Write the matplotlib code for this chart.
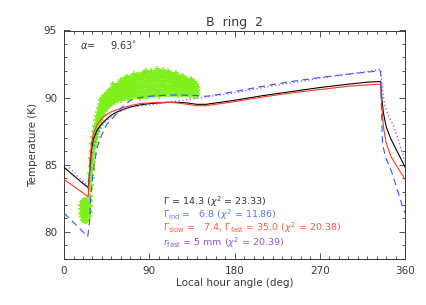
import numpy as np
import matplotlib
matplotlib.use("Agg")
import matplotlib.pyplot as plt

# model curves: local hour angle (deg) vs temperature (K)
black_lha = [0, 5, 10, 15, 20, 25.5, 26.5, 27.5, 28.9, 31, 35, 40, 45, 50, 55, 60, 70, 80, 90, 100,
             110, 120, 130, 140, 150, 160, 180, 210, 240, 270, 300, 320, 334, 335.5, 337, 340, 345,
             350, 355, 360]
black_temp = [84.8, 84.5, 84.2, 83.9, 83.6, 83.3, 84.0, 84.9, 86.1, 86.9, 87.6, 88.05, 88.4, 88.7, 88.9,
              89.05, 89.3, 89.45, 89.55, 89.6, 89.65, 89.65, 89.6, 89.5, 89.5, 89.6, 89.8, 90.15, 90.45,
              90.75, 91.0, 91.15, 91.2, 89.8, 88.85, 87.8, 86.9, 86.2, 85.5, 84.8]

red_lha = [0, 5, 10, 15, 20, 25.5, 26.5, 27.5, 29, 31, 35, 40, 45, 50, 60, 70, 80, 90, 100, 110,
           120, 130, 140, 150, 160, 180, 210, 240, 270, 300, 320, 334, 335.5, 337, 340, 345, 350,
           355, 360]
red_temp = [83.9, 83.65, 83.4, 83.15, 82.9, 82.6, 84.0, 85.5, 86.6, 87.3, 88.0, 88.45, 88.75, 88.95,
            89.2, 89.4, 89.55, 89.6, 89.65, 89.65, 89.6, 89.5, 89.4, 89.4, 89.5, 89.7, 90.05, 90.35,
            90.6, 90.85, 90.95, 91.0, 89.2, 87.8, 86.6, 85.6, 85.0, 84.45, 83.9]

blue_lha = [0, 5, 10, 15, 20, 25, 27, 28, 30, 32, 35, 39, 45, 53, 60, 70, 80, 90, 100, 120, 140,
            150, 160, 180, 210, 240, 270, 300, 320, 334, 335, 336, 339, 346, 351, 356.6, 360]
blue_temp = [81.4, 81.05, 80.7, 80.35, 80.0, 79.65, 80.8, 82.4, 84.0, 85.1, 86.3, 87.1, 88.0, 88.6,
             89.2, 89.8, 90.0, 90.1, 90.15, 90.2, 90.15, 90.1, 90.2, 90.45, 90.85, 91.2, 91.5, 91.75,
             91.9, 92.0, 89.0, 86.6, 85.6, 84.4, 83.3, 82.0, 81.4]

purple_lha = [0, 5, 10, 15, 20, 25.5, 28, 30, 35, 40, 45, 50, 60, 70, 90, 110, 130, 143, 160, 180,
              210, 240, 270, 300, 320, 334, 335, 336.5, 338.6, 342, 347.7, 352, 356, 360]
purple_temp = [85.2, 84.8, 84.5, 84.1, 83.75, 83.4, 84.6, 86.0, 87.3, 87.9, 88.3, 88.6, 89.0, 89.3,
               89.45, 89.65, 89.85, 89.98, 90.15, 90.35, 90.75, 91.1, 91.45, 91.75, 91.95, 92.1, 91.4,
               90.3, 89.35, 88.7, 87.9, 87.0, 86.1, 85.2]

# observed brightness temperatures (green crosses), one line per hour-angle column
green_lha = [
    18, 18, 18,
    19, 19, 19, 19,
    20, 20, 20, 20, 20,
    21, 21, 21, 21, 21,
    22, 22, 22, 22, 22,
    23, 23, 23, 23, 23,
    24, 24, 24, 24, 24,
    25, 25, 25, 25,
    26, 26, 26, 26,
    27, 27, 27, 27, 27, 27, 27,
    28, 28, 28, 28,
    29, 29, 29, 29,
    30, 30, 30, 30,
    31, 31, 31, 31,
    32, 32, 32, 32,
    33, 33, 33, 33,
    34, 34, 34, 34,
    35, 35, 35, 35,
    36, 36, 36, 36,
    37, 37, 37, 37,
    38, 38, 38, 38,
    39, 39, 39, 39,
    40, 40, 40, 40,
    41, 41, 41, 41, 41, 41,
    43, 43, 43, 43, 43, 43,
    45, 45, 45, 45, 45, 45,
    47, 47, 47, 47, 47, 47,
    49, 49, 49, 49, 49, 49,
    51, 51, 51, 51, 51, 51,
    53, 53, 53, 53, 53, 53,
    55, 55, 55, 55, 55, 55,
    57, 57, 57, 57, 57, 57,
    59, 59, 59, 59, 59, 59,
    61, 61, 61, 61, 61, 61,
    63, 63, 63, 63, 63, 63,
    65, 65, 65, 65, 65, 65,
    67, 67, 67, 67, 67, 67,
    69, 69, 69, 69, 69, 69,
    71, 71, 71, 71, 71, 71,
    73, 73, 73, 73, 73, 73,
    75, 75, 75, 75, 75, 75,
    77, 77, 77, 77, 77, 77,
    79, 79, 79, 79, 79, 79,
    81, 81, 81, 81, 81, 81,
    83, 83, 83, 83, 83, 83,
    85, 85, 85, 85, 85, 85,
    87, 87, 87, 87, 87, 87,
    89, 89, 89, 89, 89, 89,
    91, 91, 91, 91, 91, 91,
    93, 93, 93, 93, 93, 93,
    95, 95, 95, 95, 95, 95,
    97, 97, 97, 97, 97, 97,
    99, 99, 99, 99, 99, 99,
    101, 101, 101, 101, 101, 101,
    103, 103, 103, 103, 103, 103,
    105, 105, 105, 105, 105, 105,
    107, 107, 107, 107, 107, 107,
    109, 109, 109, 109, 109, 109,
    111, 111, 111, 111, 111, 111,
    113, 113, 113, 113, 113, 113,
    115, 115, 115, 115, 115, 115,
    117, 117, 117, 117, 117, 117,
    119, 119, 119, 119, 119, 119,
    121, 121, 121, 121, 121, 121,
    123, 123, 123, 123, 123, 123,
    125, 125, 125, 125, 125, 125,
    127, 127, 127, 127, 127, 127,
    129, 129, 129, 129, 129, 129,
    131, 131, 131, 131, 131, 131,
    133, 133, 133, 133, 133, 133,
    135, 135, 135, 135, 135, 135,
    137, 137, 137, 137, 137, 137,
    139, 139, 139, 139, 139, 139,
    140.5, 140.5, 140.5,
    # scattered outliers along the band edges
    52, 60, 64, 66, 74, 84, 86, 92, 98, 104, 110, 118, 126, 134,
    60, 80, 100, 120,
]
green_temp = [
    81.3, 81.7, 82.0,
    81.1, 81.5, 81.9, 82.2,
    80.9, 81.3, 81.7, 82.1, 82.3,
    80.9, 81.3, 81.7, 82.0, 82.4,
    80.8, 81.2, 81.6, 82.0, 82.4,
    80.8, 81.2, 81.6, 82.0, 82.3,
    80.9, 81.3, 81.7, 82.1, 82.4,
    81.0, 81.4, 81.8, 82.2,
    81.2, 81.6, 82.0, 82.4,
    81.5, 81.9, 82.3, 82.7, 83.2, 83.8, 84.4,
    83.5, 84.2, 84.9, 85.5,
    84.0, 84.7, 85.4, 86.0,
    84.6, 85.3, 86.0, 86.6,
    85.2, 85.9, 86.5, 87.1,
    85.8, 86.4, 87.0, 87.5,
    86.3, 86.9, 87.4, 87.9,
    86.7, 87.3, 87.8, 88.3,
    87.1, 87.6, 88.1, 88.6,
    87.4, 87.9, 88.4, 88.9,
    87.7, 88.2, 88.7, 89.2,
    88.0, 88.5, 89.0, 89.5,
    88.3, 88.8, 89.3, 89.8,
    88.6, 89.0, 89.5, 90.0,
    88.8, 89.05, 89.3, 89.5, 89.75, 90.0,
    89.0, 89.25, 89.5, 89.7, 89.95, 90.2,
    89.2, 89.45, 89.65, 89.9, 90.1, 90.35,
    89.35, 89.6, 89.8, 90.05, 90.25, 90.5,
    89.5, 89.7, 89.95, 90.15, 90.4, 90.6,
    89.6, 89.8, 90.05, 90.25, 90.5, 90.7,
    89.7, 89.9, 90.15, 90.35, 90.6, 90.8,
    89.8, 90.0, 90.25, 90.45, 90.7, 90.9,
    89.85, 90.1, 90.3, 90.55, 90.75, 91.0,
    89.9, 90.15, 90.35, 90.6, 90.8, 91.05,
    89.95, 90.2, 90.45, 90.7, 90.9, 91.15,
    89.95, 90.2, 90.45, 90.7, 90.95, 91.2,
    90.0, 90.25, 90.5, 90.8, 91.05, 91.3,
    90.0, 90.25, 90.55, 90.8, 91.1, 91.35,
    90.05, 90.3, 90.6, 90.9, 91.15, 91.45,
    90.05, 90.35, 90.65, 90.9, 91.2, 91.5,
    90.1, 90.4, 90.7, 90.95, 91.25, 91.55,
    90.1, 90.4, 90.7, 91.0, 91.3, 91.6,
    90.1, 90.4, 90.7, 91.05, 91.35, 91.65,
    90.1, 90.4, 90.7, 91.05, 91.35, 91.65,
    90.15, 90.45, 90.75, 91.1, 91.4, 91.7,
    90.15, 90.45, 90.8, 91.1, 91.45, 91.75,
    90.15, 90.45, 90.8, 91.1, 91.45, 91.75,
    90.15, 90.5, 90.8, 91.15, 91.45, 91.8,
    90.15, 90.5, 90.8, 91.15, 91.45, 91.8,
    90.2, 90.5, 90.85, 91.15, 91.5, 91.8,
    90.2, 90.55, 90.85, 91.2, 91.5, 91.85,
    90.2, 90.55, 90.85, 91.2, 91.5, 91.85,
    90.25, 90.6, 90.9, 91.25, 91.55, 91.9,
    90.25, 90.6, 90.95, 91.3, 91.65, 92.0,
    90.25, 90.6, 90.9, 91.25, 91.55, 91.9,
    90.3, 90.6, 90.95, 91.25, 91.6, 91.9,
    90.3, 90.6, 90.9, 91.25, 91.55, 91.85,
    90.3, 90.6, 90.9, 91.25, 91.55, 91.85,
    90.3, 90.6, 90.9, 91.2, 91.5, 91.8,
    90.3, 90.6, 90.9, 91.2, 91.5, 91.8,
    90.3, 90.6, 90.9, 91.15, 91.45, 91.75,
    90.3, 90.6, 90.85, 91.15, 91.4, 91.7,
    90.3, 90.55, 90.85, 91.1, 91.4, 91.65,
    90.3, 90.55, 90.8, 91.1, 91.35, 91.6,
    90.3, 90.55, 90.8, 91.05, 91.3, 91.55,
    90.3, 90.55, 90.8, 91.0, 91.25, 91.5,
    90.3, 90.55, 90.75, 91.0, 91.2, 91.45,
    90.25, 90.5, 90.7, 90.95, 91.15, 91.4,
    90.25, 90.45, 90.7, 90.9, 91.15, 91.35,
    90.25, 90.45, 90.65, 90.9, 91.1, 91.3,
    90.2, 90.4, 90.6, 90.85, 91.05, 91.25,
    90.2, 90.4, 90.6, 90.8, 91.0, 91.2,
    90.2, 90.4, 90.6, 90.8, 90.95, 91.15,
    90.15, 90.35, 90.5, 90.7, 90.9, 91.05,
    90.3, 90.55, 90.8,
    91.0, 91.3, 91.45, 91.5, 91.75, 91.9, 92.0, 92.0, 92.1, 92.05, 91.95, 91.8, 91.6, 91.4,
    89.8, 90.0, 90.15, 90.2,
]

xticks = [0, 90, 180, 270, 360]
yticks = [80, 85, 90, 95]

text_col = "#3a3a3a"
fig = plt.figure(figsize=(4.27, 3.05), dpi=100)
ax = fig.add_axes([0.150, 0.152, 0.799, 0.748])

ax.plot(green_lha, green_temp, "+", color="#7ff01a", ms=4.5, mew=1.1, zorder=1)
ax.plot(black_lha, black_temp, "-", color="black", lw=0.8, zorder=3)
ax.plot(red_lha, red_temp, "-", color="#ff3a1a", lw=0.8, zorder=3)
ax.plot(blue_lha, blue_temp, "--", color="#2e55ff", lw=0.8, dashes=(6, 4), zorder=3)
ax.plot(purple_lha, purple_temp, ":", color="#8a4cff", lw=0.9, dashes=(1, 2), zorder=3)

ax.set_xlim(0, 360)
ax.set_ylim(78, 95)
ax.set_xticks(xticks)
ax.set_yticks(yticks)
ax.set_xticks(np.arange(0, 361, 10), minor=True)
ax.set_yticks(np.arange(78, 96, 1), minor=True)
ax.tick_params(which="both", direction="in", top=True, right=True, colors=text_col,
               labelsize=7.5, width=0.6)
ax.tick_params(which="major", length=4.5, pad=5)
ax.tick_params(which="minor", length=2.5)
for s in ax.spines.values():
    s.set_color(text_col)
    s.set_linewidth(0.7)

ax.set_xlabel("Local hour angle (deg)", fontsize=7.5, color=text_col, labelpad=2)
ax.set_ylabel("Temperature (K)", fontsize=7.5, color=text_col, labelpad=4)
ax.set_title("B  ring  2", fontsize=9, color=text_col, pad=3)

ax.text(17, 93.6, r"$\alpha$=     9.63$^{\circ}$", fontsize=7, color=text_col)

fs = 6.8
ax.text(104, 82.26, r"$\Gamma$ = 14.3 ($\chi^2$ = 23.33)", fontsize=fs, color="#333333", va="center")
ax.text(104, 81.27, r"$\Gamma_{\rm ind}$ =   6.8 ($\chi^2$ = 11.86)", fontsize=fs, color="#5577ff",
        va="center")
ax.text(104, 80.28, r"$\Gamma_{\rm slow}$ =   7.4, $\Gamma_{\rm fast}$ = 35.0 ($\chi^2$ = 20.38)",
        fontsize=fs, color="#ff5a3a", va="center")
ax.text(104, 79.2, r"$r_{\rm fast}$ = 5 mm ($\chi^2$ = 20.39)", fontsize=fs, color="#8a55d8",
        va="center")

fig.savefig("out.png", dpi=100)
